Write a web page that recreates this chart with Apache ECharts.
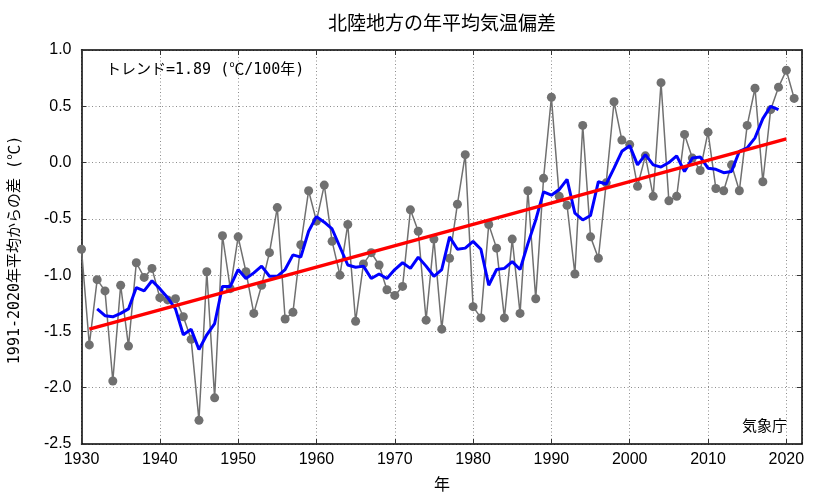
<!DOCTYPE html>
<html>
<head>
<meta charset="utf-8">
<script src="https://cdn.jsdelivr.net/npm/echarts@6/dist/echarts.min.js"></script>
<style>
html,body{margin:0;padding:0;background:#fff;}
#chart{width:833px;height:498px;}
</style>
</head>
<body>
<div id="chart"></div>
<script>
// Years 1930-2021
const years = [];
for (let y = 1930; y <= 2021; y++) years.push(y);

// Annual mean temperature anomaly (°C), 1930-2021
const anomaly = [
  -0.77,-1.62,-1.04,-1.14,-1.94,-1.09,-1.63,-0.89,-1.02,-0.94,
  -1.20,-1.22,-1.21,-1.37,-1.57,-2.29,-0.97,-2.09,-0.65,-1.12,
  -0.66,-0.97,-1.34,-1.09,-0.80,-0.40,-1.39,-1.33,-0.73,-0.25,
  -0.52,-0.20,-0.70,-1.00,-0.55,-1.41,-0.90,-0.80,-0.91,-1.13,
  -1.18,-1.10,-0.42,-0.61,-1.40,-0.68,-1.48,-0.85,-0.37,0.07,
  -1.28,-1.38,-0.55,-0.76,-1.38,-0.68,-1.34,-0.25,-1.21,-0.14,
  0.58,-0.30,-0.38,-0.99,0.33,-0.66,-0.85,-0.18,0.54,0.20,
  0.16,-0.21,0.06,-0.30,0.71,-0.34,-0.30,0.25,0.04,-0.07,
  0.27,-0.23,-0.25,-0.02,-0.25,0.33,0.66,-0.17,0.47,0.67,
  0.82,0.57
];

// 5-year running mean, years 1932-2019
const smoothYears = [];
for (let y = 1932; y <= 2019; y++) smoothYears.push(y);
const smooth = [
  -1.30,-1.36,-1.37,-1.34,-1.30,-1.11,-1.14,-1.05,
  -1.12,-1.20,-1.30,-1.53,-1.48,-1.66,-1.53,-1.43,-1.10,-1.10,
  -0.95,-1.03,-0.98,-0.92,-1.01,-1.01,-0.95,-0.82,-0.84,-0.61,
  -0.48,-0.53,-0.59,-0.75,-0.91,-0.93,-0.92,-1.03,-0.99,-1.03,
  -0.95,-0.89,-0.94,-0.84,-0.92,-1.01,-0.95,-0.66,-0.77,-0.76,
  -0.70,-0.77,-1.09,-0.95,-0.94,-0.88,-0.95,-0.72,-0.51,-0.26,
  -0.29,-0.24,-0.15,-0.45,-0.51,-0.47,-0.17,-0.19,-0.05,0.10,
  0.15,-0.02,0.07,-0.02,-0.04,0.00,0.06,-0.08,0.04,0.05,
  -0.05,-0.06,-0.09,-0.08,0.10,0.13,0.22,0.39,0.50,0.47
];

// Linear trend end points
const trendYears = [1931, 2020];
const trendValues = [-1.48, 0.21];

// Axis ticks
const xTicks = [1930, 1940, 1950, 1960, 1970, 1980, 1990, 2000, 2010, 2020];
const yTicks = [-2.5, -2.0, -1.5, -1.0, -0.5, 0.0, 0.5, 1.0];

const titleText = '北陸地方の年平均気温偏差';
const trendText = 'トレンド=1.89 (℃/100年)';
const yName = '1991-2020年平均からの差 (℃)';
const xName = '年';
const credit = '気象庁';

const pair = (xs, vs) => xs.map((x, i) => [x, vs[i]]);

const chart = echarts.init(document.getElementById('chart'), null, {renderer: 'canvas'});

const gridLine = {show: true, lineStyle: {color: '#8c8c8c', width: 1, type: [1, 2.5]}};
const frameLine = {show: true, onZero: false, lineStyle: {color: '#000', width: 1.5}};
const innerTick = {show: true, inside: true, length: 5, lineStyle: {color: '#333', width: 1}};

const option = {
  animation: false,
  backgroundColor: '#fff',
  grid: {left: 81.5, right: 31, top: 50, bottom: 54, containLabel: false},
  xAxis: [
    {
      type: 'value', min: xTicks[0], max: 2022, interval: 10,
      axisLine: frameLine, axisTick: innerTick, splitLine: gridLine,
      axisLabel: {show: true, showMaxLabel: false, margin: 8, fontSize: 16,
        fontFamily: 'Liberation Sans', color: '#000', formatter: v => String(v)}
    },
    {
      type: 'value', position: 'top', min: xTicks[0], max: 2022, interval: 10,
      axisLine: frameLine, axisTick: innerTick, splitLine: {show: false},
      axisLabel: {show: false}
    }
  ],
  yAxis: [
    {
      type: 'value', min: yTicks[0], max: yTicks[yTicks.length - 1], interval: 0.5,
      axisLine: frameLine, axisTick: innerTick, splitLine: gridLine,
      axisLabel: {margin: 10, fontSize: 16, fontFamily: 'Liberation Sans', color: '#000',
        formatter: v => v.toFixed(1)}
    },
    {
      type: 'value', position: 'right', min: yTicks[0], max: yTicks[yTicks.length - 1], interval: 0.5,
      axisLine: frameLine, axisTick: innerTick, splitLine: {show: false},
      axisLabel: {show: false}
    }
  ],
  series: [
    {
      type: 'line', name: 'anomaly', data: pair(years, anomaly),
      symbol: 'circle', symbolSize: 9, showSymbol: true,
      lineStyle: {color: '#707070', width: 1.5},
      itemStyle: {color: '#707070'}, z: 2
    },
    {
      type: 'line', name: 'smooth', data: pair(smoothYears, smooth),
      symbol: 'none', lineStyle: {color: '#0000ff', width: 3}, z: 3
    },
    {
      type: 'line', name: 'trend', data: pair(trendYears, trendValues),
      symbol: 'none', lineStyle: {color: '#ff0000', width: 3.5}, z: 4
    }
  ],
  graphic: [
    {type: 'text', x: 442, y: 23,
      style: {text: titleText, fontSize: 19, fontFamily: 'Noto Sans CJK JP',
        fill: '#000', textAlign: 'center', textVerticalAlign: 'middle'}},
    {type: 'text', x: 106, y: 70,
      style: {text: trendText, fontSize: 15, fontFamily: '"DejaVu Sans Mono", "Noto Sans CJK JP"',
        fill: '#000', textAlign: 'left', textVerticalAlign: 'middle'}},
    {type: 'text', x: 787, y: 425,
      style: {text: credit, fontSize: 15, fontFamily: 'Noto Sans CJK JP',
        fill: '#000', textAlign: 'right', textVerticalAlign: 'middle'}},
    {type: 'text', x: 442, y: 484,
      style: {text: xName, fontSize: 16, fontFamily: 'Noto Sans CJK JP',
        fill: '#000', textAlign: 'center', textVerticalAlign: 'middle'}},
    {type: 'text', x: 15, y: 250, rotation: Math.PI / 2,
      style: {text: yName, fontSize: 15, fontFamily: '"DejaVu Sans Mono", "Noto Sans CJK JP"',
        fill: '#000', textAlign: 'center', textVerticalAlign: 'middle'}}
  ]
};
chart.setOption(option);
</script>
</body>
</html>
